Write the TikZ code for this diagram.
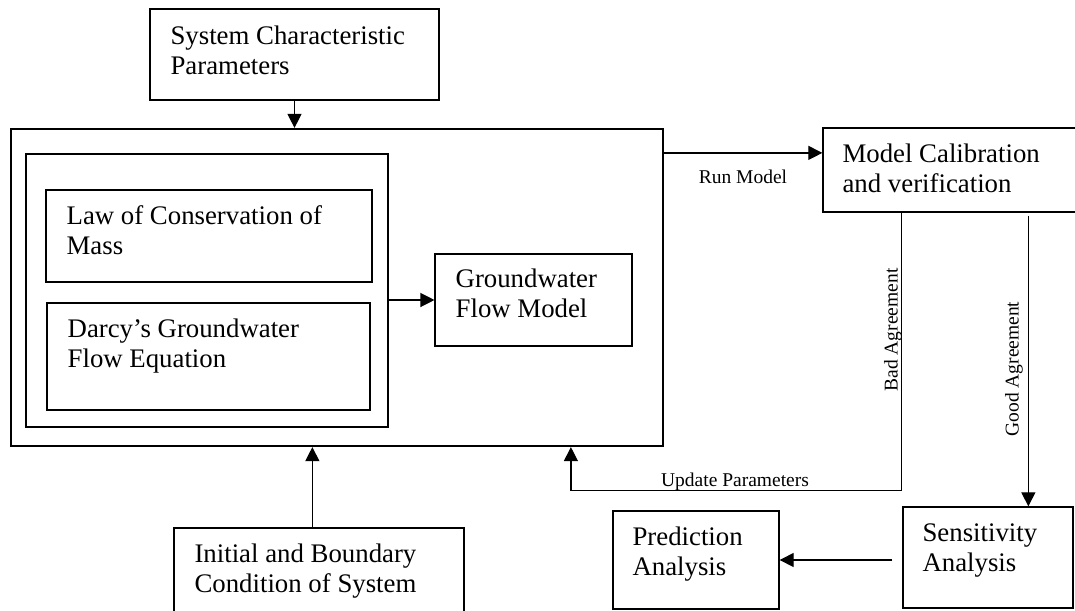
\documentclass[tikz,border=0pt]{standalone}
\usepackage{fontspec}
\setmainfont{Liberation Serif}
\usetikzlibrary{arrows.meta,calc,fit}
\tikzset{
  box/.style={draw, line width=1.3pt, inner sep=0pt},
  thickbox/.style={draw, line width=2.2pt, inner sep=0pt},
  txt/.style={inner sep=0pt, anchor=base west, font=\fontsize{26.8}{30}\selectfont},
  lbl/.style={inner sep=0pt, font=\fontsize{19.5}{22}\selectfont},
  arr/.style={line width=1.2pt, -{Triangle[length=14pt,width=14pt]}},
}
\begin{document}
\begin{tikzpicture}[x=1pt,y=-1pt]
\useasboundingbox (0,0) rectangle (1075,610);
\clip (0,0) rectangle (1075,610);
% boxes
\node[box, fit={(150,9) (439,100)}] (sys) {};
\node[thickbox, fit={(11,129) (663,446)}] (main) {};
\node[box, line width=1.1pt, fit={(26,154) (388,427)}] (inner) {};
\node[box, line width=1.1pt, fit={(46,190) (372,282)}] (law) {};
\node[box, line width=1.1pt, fit={(47,303) (370,410)}] (darcy) {};
\node[box, line width=1.1pt, fit={(435,254) (632,346)}] (gfm) {};
\node[box, fit={(823,128) (1090,212)}] (mc) {};
\node[box, fit={(903,507) (1073,608)}] (sens) {};
\node[box, fit={(613,511) (779,609)}] (pred) {};
\node[box, fit={(174,528) (464,620)}] (init) {};
% texts
\node[txt] (sys-t) at ($(sys.north west)+(21,36)$) {\parbox[t]{265pt}{System Characteristic\\Parameters}};
\node[txt] (law-t) at ($(law.north west)+(21,35)$) {\parbox[t]{300pt}{Law of Conservation of\\Mass}};
\node[txt] (darcy-t) at ($(darcy.north west)+(21,35)$) {\parbox[t]{300pt}{Darcy’s Groundwater\\Flow Equation}};
\node[txt] (gfm-t) at ($(gfm.north west)+(21,34)$) {\parbox[t]{175pt}{Groundwater\\Flow Model}};
\node[txt] (mc-t) at ($(mc.north west)+(20,35)$) {\parbox[t]{230pt}{Model Calibration\\and verification}};
\node[txt] (sens-t) at ($(sens.north west)+(20,35)$) {\parbox[t]{145pt}{Sensitivity\\Analysis}};
\node[txt] (pred-t) at ($(pred.north west)+(20,35)$) {\parbox[t]{140pt}{Prediction\\Analysis}};
\node[txt] (init-t) at ($(init.north west)+(21,35)$) {\parbox[t]{265pt}{Initial and Boundary\\Condition of System}};
% connectors
\draw[arr] (sys.south) -- (sys.south |- main.north);
\draw[arr] (gfm.west -| inner.east) -- (gfm.west);
\coordinate (runstart) at ($(main.north east)+(0,25)$);
\draw[arr] (runstart) -- (runstart -| mc.west);
\node[lbl, anchor=base] (run-l) at (743,183) {Run Model};
\coordinate (initup) at ($(init.north west)+(139,0)$);
\draw[arr] (initup) -- (initup |- main.south);
\coordinate (badtop) at ($(mc.south west)+(79,0)$);
\coordinate (badend) at ($(main.south west)+(561,0)$);
\draw[arr] (badtop) -- ++(0,278) -| (badend);
\node[lbl, rotate=90] (bad-l) at (893,330) {Bad Agreement};
\node[lbl, anchor=base] (upd-l) at (735,486) {Update Parameters};
\coordinate (goodtop) at ($(mc.south west)+(206,3)$);
\draw[arr] (goodtop) -- (goodtop |- sens.north);
\node[lbl, rotate=90] (good-l) at (1014,369) {Good Agreement};
\draw[arr, shorten <=10pt] (pred.east -| sens.west) -- (pred.east);
\end{tikzpicture}
\end{document}
